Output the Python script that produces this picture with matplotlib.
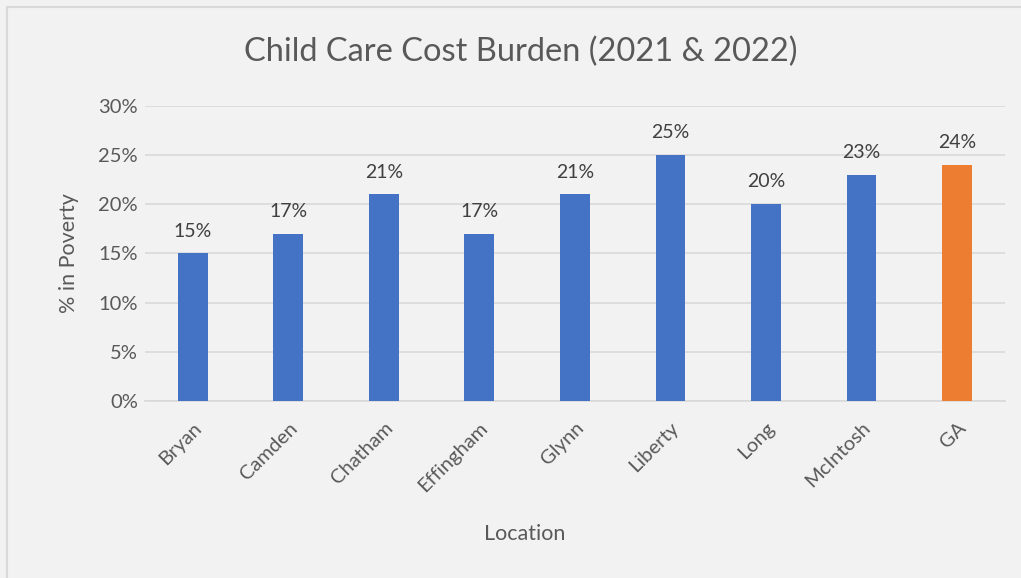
import matplotlib.pyplot as plt
from matplotlib.lines import Line2D
from matplotlib.ticker import PercentFormatter

plt.rcParams['font.family'] = ['Lato', 'DejaVu Sans']

# 各地区儿童看护费用负担
locations = ['Bryan', 'Camden', 'Chatham', 'Effingham', 'Glynn', 'Liberty', 'Long', 'McIntosh', 'GA']
burden = [15, 17, 21, 17, 21, 25, 20, 23, 24]
colors = ['#4472C4'] * 8 + ['#ED7D31']

bg = '#f2f2f2'
fig = plt.figure(figsize=(10.21, 5.78), dpi=100, facecolor=bg)
ax = fig.add_axes([0.142, 0.306, 0.842, 0.511], facecolor=bg)

x = range(len(locations))
ax.bar(x, burden, width=0.31, color=colors, zorder=3)
for xi, v in zip(x, burden):
    ax.text(xi, v + 1.4, f'{v}%', ha='center', va='bottom', fontsize=14, color='#404040')

ax.set_ylim(0, 30)
ax.set_xlim(-0.5, len(locations) - 0.5)
ax.set_yticks(range(0, 31, 5))
ax.yaxis.set_major_formatter(PercentFormatter(decimals=0))
ax.grid(axis='y', color='#d9d9d9', linewidth=1.2, zorder=0)
for s in ['top', 'right', 'left']:
    ax.spines[s].set_visible(False)
ax.spines['bottom'].set_color('#d9d9d9')
ax.spines['bottom'].set_linewidth(1.2)
ax.tick_params(length=0, colors='#595959', labelsize=14.5)
ax.tick_params(axis='y', pad=5)
ax.tick_params(axis='x', pad=13)
ax.set_xticks(list(x))
ax.set_xticklabels(locations, rotation=45, ha='right', rotation_mode='anchor')

ax.set_xlabel('Location', fontsize=15.5, color='#595959')
ax.xaxis.set_label_coords(0.442, -0.415)
ax.set_ylabel('% in Poverty', fontsize=15.5, color='#595959', labelpad=14)
fig.text(0.51, 0.911, 'Child Care Cost Burden (2021 & 2022)', ha='center', va='center',
         fontsize=23.5, color='#595959')

# 边框（左、上）
fig.lines.append(Line2D([0.007, 0.007], [0, 0.988], transform=fig.transFigure, color='#d9d9d9', linewidth=1.5))
fig.lines.append(Line2D([0.007, 1], [0.988, 0.988], transform=fig.transFigure, color='#d9d9d9', linewidth=1.5))

plt.savefig('out.png', dpi=100, facecolor=bg)
